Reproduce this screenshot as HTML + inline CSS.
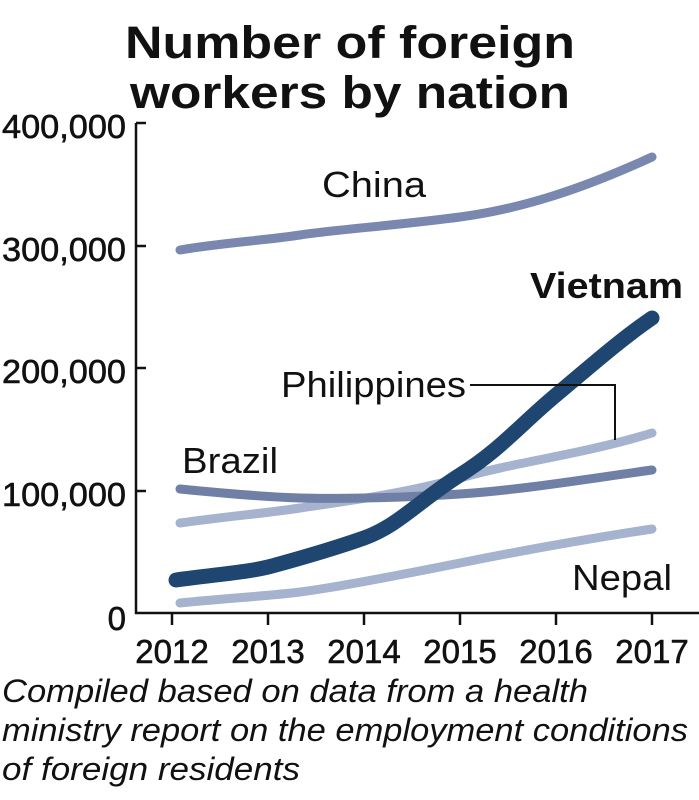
<!DOCTYPE html><html><head><style>body{margin:0;background:#fff}svg{display:block}</style></head><body>
<svg width="699" height="800" xmlns="http://www.w3.org/2000/svg" font-family="Liberation Sans, sans-serif">
<text x="350" y="58" text-anchor="middle" font-size="45" font-weight="bold" fill="#111" textLength="450" lengthAdjust="spacingAndGlyphs">Number of foreign</text>
<text x="350" y="108" text-anchor="middle" font-size="45" font-weight="bold" fill="#111" textLength="440" lengthAdjust="spacingAndGlyphs">workers by nation</text>
<g stroke="#111" stroke-width="2.5" fill="none">
<path d="M136 123V613H699"/>
<path d="M136 123h10M136 246h10M136 368h10M136 491h10"/>
<path d="M172 613v12M268 613v12M364 613v12M460 613v12M556 613v12M652 613v12"/>
</g>
<g font-size="33" fill="#111" stroke="#111" stroke-width="0.6" text-anchor="end">
<text x="126" y="138" textLength="124" lengthAdjust="spacingAndGlyphs">400,000</text><text x="126" y="261" textLength="124" lengthAdjust="spacingAndGlyphs">300,000</text><text x="126" y="383" textLength="124" lengthAdjust="spacingAndGlyphs">200,000</text><text x="126" y="506" textLength="124" lengthAdjust="spacingAndGlyphs">100,000</text><text x="126" y="630">0</text>
</g>
<g font-size="33" fill="#111" stroke="#111" stroke-width="0.6" text-anchor="middle">
<text x="172" y="663">2012</text><text x="268" y="663">2013</text><text x="364" y="663">2014</text><text x="460" y="663">2015</text><text x="556" y="663">2016</text><text x="652" y="663">2017</text>
</g>
<g fill="none" stroke-linecap="round" stroke-linejoin="round">
<path d="M180 250C220 243 268 240 300 235S400 225 460 217S580 190 652 157" stroke="#7a88b0" stroke-width="9"/>
<path d="M180 523C230 516 268 513 300 508S400 495 460 478S580 455 652 433" stroke="#a5b3cf" stroke-width="9"/>
<path d="M180 489C230 494 268 497 300 498S400 498 460 494S580 480 652 470" stroke="#6f7fa6" stroke-width="9"/>
<path d="M180 603C230 598 268 596 300 592S400 575 460 563S580 540 652 529" stroke="#a5b3cf" stroke-width="9"/>
<path d="M176 580C220 574 250 572 272 566S330 550 364 538S420 500 460 475S520 425 556 395S620 340 652 318" stroke="#1f4670" stroke-width="15"/>
</g>
<path d="M470 385H615V440" stroke="#111" stroke-width="2" fill="none"/>
<g font-size="36" fill="#111">
<text x="322" y="197" textLength="104" lengthAdjust="spacingAndGlyphs">China</text>
<text x="530" y="298" font-weight="bold" textLength="153" lengthAdjust="spacingAndGlyphs">Vietnam</text>
<text x="281" y="397" textLength="185" lengthAdjust="spacingAndGlyphs">Philippines</text>
<text x="182" y="473" textLength="96" lengthAdjust="spacingAndGlyphs">Brazil</text>
<text x="572" y="590" textLength="100" lengthAdjust="spacingAndGlyphs">Nepal</text>
</g>
<g font-size="32" font-style="italic" fill="#111">
<text x="2" y="702" textLength="586" lengthAdjust="spacingAndGlyphs">Compiled based on data from a health</text>
<text x="2" y="741" textLength="686" lengthAdjust="spacingAndGlyphs">ministry report on the employment conditions</text>
<text x="2" y="780" textLength="298" lengthAdjust="spacingAndGlyphs">of foreign residents</text>
</g>
</svg></body></html>
